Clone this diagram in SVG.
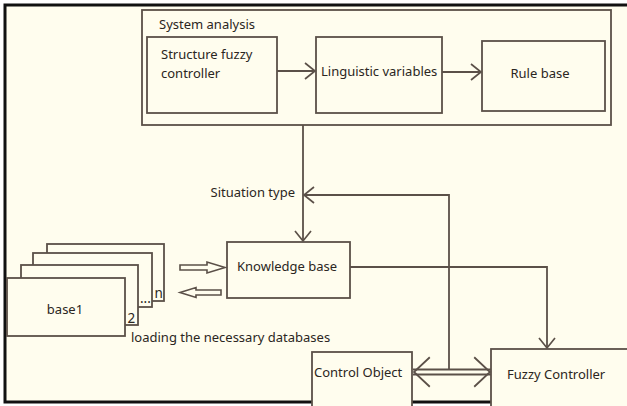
<svg xmlns="http://www.w3.org/2000/svg" width="627" height="406" viewBox="0 0 627 406">
  <defs>
    <style>
      .box { fill: #fffdee; stroke: #5b5048; stroke-width: 1.8; }
      .ln { fill: none; stroke: #5b5048; stroke-width: 1.8; }
      .hollow { fill: #fffdee; stroke: #5b5048; stroke-width: 1.6; stroke-linejoin: miter; }
      .t { font-family: "Noto Sans", "Liberation Sans", Arial, sans-serif; font-size: 13px; fill: #2b2622; }
      .lbl { font-family: "Noto Sans", "Liberation Sans", Arial, sans-serif; font-size: 13.5px; fill: #2b2622; }
    </style>
    <marker id="vee" markerUnits="userSpaceOnUse" markerWidth="14" markerHeight="20" viewBox="-12 -9 14 18" refX="0" refY="0" orient="auto-start-reverse">
      <path d="M-10,-8 L0,0 L-10,8" fill="none" stroke="#5b5048" stroke-width="1.7"/>
    </marker>
    <marker id="veeLg" markerUnits="userSpaceOnUse" markerWidth="20" markerHeight="34" viewBox="-17 -16 19 32" refX="0" refY="0" orient="auto-start-reverse">
      <path d="M-15,-14 L0,0 L-15,14" fill="none" stroke="#5b5048" stroke-width="1.7"/>
    </marker>
  </defs>

  <!-- page and frame -->
  <rect x="0" y="0" width="627" height="406" fill="#ffffff"/>
  <rect x="5" y="5" width="640" height="397" fill="#fffdee" stroke="#111111" stroke-width="3"/>

  <!-- system analysis container -->
  <g id="system-analysis">
    <rect class="box" x="142" y="10" width="469" height="115"/>
    <text class="t" x="159" y="29">System analysis</text>
  </g>

  <g id="structure-fuzzy-controller">
    <rect class="box" x="147" y="37" width="130" height="76"/>
    <text class="t" x="161" y="59">Structure fuzzy</text>
    <text class="t" x="161" y="78">controller</text>
  </g>

  <g id="linguistic-variables">
    <rect class="box" x="316" y="37" width="126" height="76"/>
    <text class="t" x="321" y="76">Linguistic variables</text>
  </g>

  <g id="rule-base">
    <rect class="box" x="482" y="41" width="123" height="70"/>
    <text class="t" x="540" y="78" text-anchor="middle">Rule base</text>
  </g>

  <g id="knowledge-base">
    <rect class="box" x="227" y="242" width="123" height="56"/>
    <text class="t" x="237" y="271">Knowledge base</text>
  </g>

  <!-- stacked databases, back to front -->
  <g id="databases">
    <rect class="box" x="47" y="244" width="117" height="57"/>
    <rect class="box" x="33" y="253" width="119" height="54"/>
    <rect class="box" x="21" y="265" width="117" height="60"/>
    <rect class="box" x="7" y="278" width="118" height="58"/>
    <text class="t" x="65" y="314" text-anchor="middle">base1</text>
    <text class="lbl" x="127.5" y="323">2</text>
    <text class="lbl" x="140" y="303">...</text>
    <text class="lbl" x="154.5" y="298">n</text>
  </g>

  <g id="control-object">
    <rect class="box" x="312" y="352" width="100" height="60"/>
    <text class="t" x="314" y="377">Control Object</text>
  </g>

  <g id="fuzzy-controller">
    <rect class="box" x="491" y="349" width="150" height="60"/>
    <text class="t" x="507" y="379">Fuzzy Controller</text>
  </g>

  <!-- connectors -->
  <g id="connectors">
    <line class="ln" x1="277" y1="71" x2="315" y2="71" marker-end="url(#vee)"/>
    <line class="ln" x1="442" y1="72" x2="481" y2="72" marker-end="url(#vee)"/>
    <line class="ln" x1="303" y1="125" x2="303" y2="241" marker-end="url(#vee)"/>
    <polyline class="ln" points="449,370 449,195 304,195" marker-end="url(#vee)"/>
    <polyline class="ln" points="350,267 547,267 547,348" marker-end="url(#vee)"/>

    <!-- two-way link between control object and controller -->
    <line class="ln" x1="413" y1="369.5" x2="491" y2="369.5"/>
    <line class="ln" x1="413" y1="374.5" x2="491" y2="374.5"/>
    <path d="M414,372 L490,372" fill="none" stroke="none" marker-start="url(#veeLg)" marker-end="url(#veeLg)"/>

    <!-- loading arrows between databases and knowledge base -->
    <polygon class="hollow" points="180,265 207,265 207,262 225,267.5 207,273 207,270 180,270"/>
    <polygon class="hollow" points="221,290 196,290 196,287.5 180,292.5 196,297.5 196,295 221,295"/>
    <text class="t" x="131" y="342">loading the necessary databases</text>
    <text class="t" x="295" y="197" text-anchor="end">Situation type</text>
  </g>
</svg>
